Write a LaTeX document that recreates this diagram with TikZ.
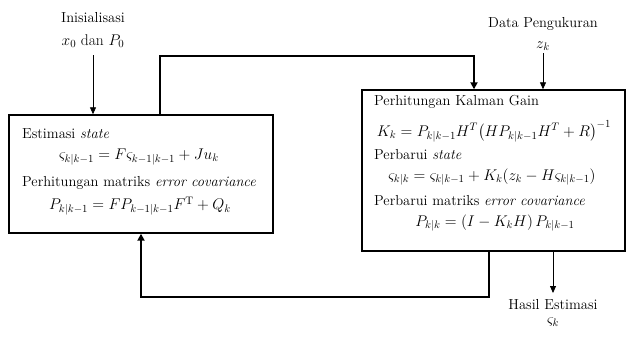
\RequirePackage{fix-cm}
\documentclass[tikz,border=0pt]{standalone}
\usepackage{amsmath}
\usetikzlibrary{arrows.meta}
\begin{document}
\begin{tikzpicture}[x=1pt,y=-1pt,
  box/.style={draw, line width=1.4pt, inner sep=0pt},
  txt/.style={inner sep=0pt, font=\fontsize{14.5}{16}\selectfont},
  mth/.style={inner sep=0pt, font=\fontsize{15.5}{17}\selectfont},
  thinarrow/.style={line width=0.8pt, -{Triangle[length=7pt,width=6pt]}},
  thickarrow/.style={line width=2pt, -{Triangle[length=7pt,width=7pt]}}]
\useasboundingbox (0,0) rectangle (626,338);
% boxes
\node[box, minimum width=264pt, minimum height=118pt] (L) at (141,174) {};
\node[box, minimum width=263pt, minimum height=161pt] (R) at (493.5,170.5) {};
% left box texts
\node[txt, anchor=west] (l1) at (22,134) {Estimasi \textit{state}};
\node[mth] (l2) at (139,157) {$\varsigma_{k|k-1} = F\varsigma_{k-1|k-1} + Ju_k$};
\node[txt, anchor=west] (l3) at (22,183) {Perhitungan matriks \textit{error covariance}};
\node[mth] (l4) at (140,206) {$P_{k|k-1} = FP_{k-1|k-1}F^{\mathrm{T}} + Q_k$};
% right box texts
\node[txt, anchor=west] (r1) at (374,102) {Perhitungan Kalman Gain};
\node[mth] (r2) at (494,131) {$K_k = P_{k|k-1}H^T\bigl(HP_{k|k-1}H^T + R\bigr)^{-1}$};
\node[txt, anchor=west] (r3) at (374,155) {Perbarui \textit{state}};
\node[mth] (r4) at (492,177) {$\varsigma_{k|k} = \varsigma_{k|k-1} + K_k(z_k - H\varsigma_{k|k-1})$};
\node[txt, anchor=west] (r5) at (374,201) {Perbarui matriks \textit{error covariance}};
\node[mth] (r6) at (495,223) {$P_{k|k} = (I - K_kH)\,P_{k|k-1}$};
% outside labels
\node[txt] (i1) at (93,18) {Inisialisasi};
\node[mth] (i2) at (93,41) {$x_0$ dan $P_0$};
\node[txt] (d1) at (543,24) {Data Pengukuran};
\node[mth] (d2) at (543,46) {$z_k$};
\node[txt] (h1) at (553,305) {Hasil Estimasi};
\node[mth] (h2) at (553,322) {$\varsigma_k$};
% connector points
\coordinate (ia) at (93,55);
\coordinate (da) at (543,53);
\coordinate (ha) at (553,293);
\coordinate (a1) at (160,56);
\coordinate (a2) at (474,56);
\coordinate (b1) at (489,297);
\coordinate (b2) at (141,297);
% arrows
\draw[thinarrow] (ia) -- (ia |- L.north);
\draw[thinarrow] (da) -- (da |- R.north);
\draw[thinarrow] (ha |- R.south) -- (ha);
\draw[thickarrow] (a1 |- L.north) -- (a1) -- (a2) -- (a2 |- R.north);
\draw[thickarrow] (b1 |- R.south) -- (b1) -- (b2) -- (b2 |- L.south);
\end{tikzpicture}
\end{document}
